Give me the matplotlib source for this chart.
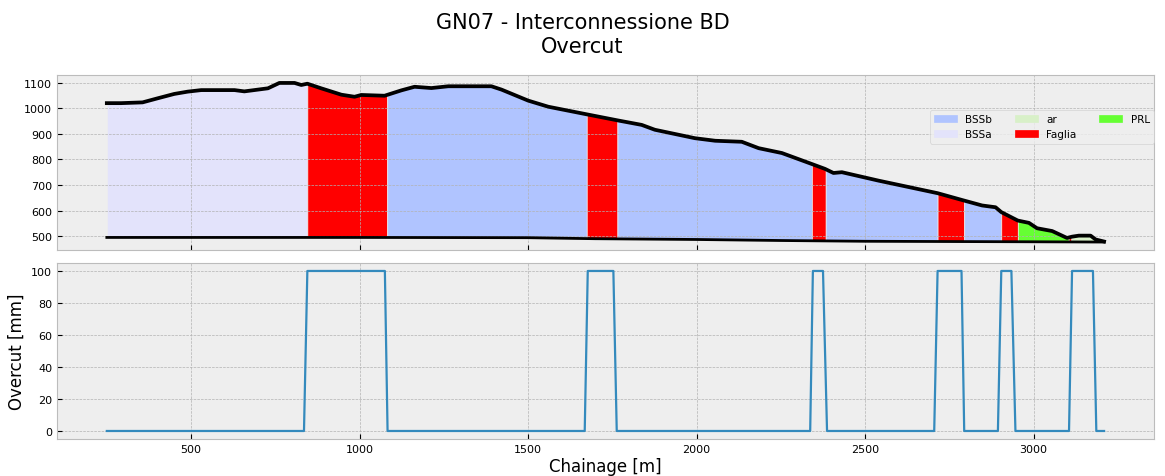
import matplotlib.pyplot as plt
import matplotlib.patches as mpatches
import numpy as np

# ground profile (chainage [m], elevation [m])
prof_x = [250, 292, 356, 401, 450, 490, 530, 629, 658, 728, 762, 807, 827, 845,
          886, 946, 985, 1005, 1074, 1124, 1163, 1213, 1263, 1391, 1421, 1500,
          1560, 1679, 1768, 1837, 1876, 1995, 2055, 2134, 2184, 2253, 2342, 2381,
          2406, 2431, 2540, 2715, 2794, 2847, 2887, 2904, 2953, 2986, 3010, 3055,
          3099, 3114, 3134, 3169, 3184, 3209]
prof_z = [1020, 1020, 1023, 1039, 1056, 1065, 1071, 1071, 1066, 1078, 1099, 1099, 1091, 1096,
          1078, 1053, 1045, 1052, 1049, 1070, 1084, 1079, 1086, 1086, 1073, 1030,
          1006, 975, 952, 935, 916, 883, 873, 869, 844, 825, 782, 763,
          747, 750, 717, 668, 639, 620, 613, 594, 561, 552, 531, 520,
          493, 498, 502, 502, 487, 479]

# tunnel alignment
tun_x = [250, 1000, 1500, 1700, 2000, 2250, 2500, 3000, 3209]
tun_z = [495, 495, 494, 490, 487, 483, 480, 478, 477]

# geological units along the alignment
geo_start = [250, 845, 1082, 1674, 1765, 2342, 2383, 2715, 2794, 2904, 2953, 3104, 3112]
geo_end = [845, 1082, 1674, 1765, 2342, 2383, 2715, 2794, 2904, 2953, 3104, 3112, 3209]
geo_unit = ['BSSa', 'Faglia', 'BSSb', 'Faglia', 'BSSb', 'Faglia', 'BSSb', 'Faglia',
            'BSSb', 'Faglia', 'PRL', 'Faglia', 'ar']

unit_names = ['BSSb', 'BSSa', 'ar', 'Faglia', 'PRL']
unit_colors = ['#b0c4ff', '#e3e3fb', '#d8f0c8', '#ff0000', '#66ff33']

# overcut [mm]
oc_x = [250, 835, 845, 1075, 1083, 1668, 1677, 1753, 1763, 2337, 2345, 2375, 2387,
        2705, 2715, 2786, 2794, 2894, 2904, 2934, 2946, 3105, 3114, 3176, 3186, 3209]
oc_y = [0, 0, 100, 100, 0, 0, 100, 100, 0, 0, 100, 100, 0,
        0, 100, 100, 0, 0, 100, 100, 0, 0, 100, 100, 0, 0]

plt.style.use('bmh')
fig = plt.figure(figsize=(11.65, 4.77), dpi=100)
ax1 = fig.add_axes([0.0489, 0.4738, 0.9416, 0.3669])
ax2 = fig.add_axes([0.0489, 0.0776, 0.9416, 0.369], sharex=ax1)

# 1 geology fills between tunnel and ground
colmap = dict(zip(unit_names, unit_colors))
for s, e, u in zip(geo_start, geo_end, geo_unit):
    xs = [s] + [x for x in prof_x if s < x < e] + [e]
    top = np.interp(xs, prof_x, prof_z)
    bot = np.interp(xs, tun_x, tun_z)
    ax1.fill_between(xs, bot, top, facecolor=colmap[u], edgecolor='#eeeeee', linewidth=0.5)

ax1.plot(prof_x, prof_z, color='black', lw=2.7, solid_joinstyle='round')
ax1.plot(tun_x, tun_z, color='black', lw=2)
ax1.set_yticks(range(500, 1101, 100))
ax1.tick_params(labelbottom=False, labelsize=8)

handles = [mpatches.Patch(color=c, label=n) for n, c in zip(unit_names, unit_colors)]
ax1.legend(handles=handles, ncol=3, loc='upper right', bbox_to_anchor=(1.0, 0.8),
           borderaxespad=0, fontsize=7.5, columnspacing=2.2, handlelength=2.2,
           frameon=True)

# 2 overcut
ax2.plot(oc_x, oc_y, lw=1.6)
ax2.set_yticks(range(0, 101, 20))
ax2.tick_params(labelsize=8)
ax2.set_ylabel('Overcut [mm]', fontsize=12)
ax2.set_xlabel('Chainage [m]', fontsize=12, labelpad=2)

fig.suptitle('GN07 - Interconnessione BD\nOvercut', fontsize=15, y=0.972)

plt.savefig('out.png', dpi=100)
